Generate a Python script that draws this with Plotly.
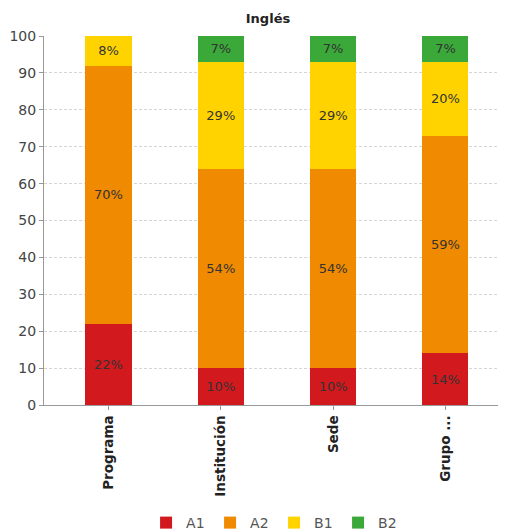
import plotly.graph_objects as go

categories = ["Programa", "Institución", "Sede", "Grupo ..."]
series_names = ["A1", "A2", "B1", "B2"]
a1 = [22, 10, 10, 14]
a2 = [70, 54, 54, 59]
b1 = [8, 29, 29, 20]
b2 = [0, 7, 7, 7]
colors = ["#D2191E", "#F08A00", "#FFD300", "#3BA83A"]
y_ticks = [0, 10, 20, 30, 40, 50, 60, 70, 80, 90, 100]

# page body has an 8px margin; figure is sized so the viewport matches the reference
OFF = 8
W, H = 506 - OFF, 531 - OFF
L, T, B = 44 - OFF, 36 - OFF, 126
PH = H - T - B

fig = go.Figure()
for name, vals, col in zip(series_names, [a1, a2, b1, b2], colors):
    fig.add_trace(go.Bar(
        x=list(range(len(categories))), y=vals, name=name,
        marker=dict(color=col, line=dict(width=0)),
        width=0.41,
        text=[f"{v}%" if v > 0 else "" for v in vals],
        textposition="inside", insidetextanchor="middle",
        textfont=dict(family="DejaVu Sans", size=13, color="#333333"),
        textangle=0,
    ))

fig.update_layout(
    barmode="stack",
    width=W, height=H,
    margin=dict(l=L, r=0, t=T, b=B, autoexpand=False),
    plot_bgcolor="white", paper_bgcolor="white",
    title=dict(text="<b>Inglés</b>", x=(268 - OFF) / W, xanchor="center", y=1 - (18 - OFF) / H, yanchor="middle",
               font=dict(family="DejaVu Sans", size=13, color="#222222")),
    font=dict(family="DejaVu Sans"),
    showlegend=True,
    legend=dict(orientation="h", x=(256 - OFF) / W, xanchor="center", y=-(523 - 405) / PH, yanchor="middle",
                font=dict(size=14, color="#555555"), itemwidth=30, traceorder="normal",
                entrywidth=19, entrywidthmode="pixels", tracegroupgap=0),
    uniformtext=dict(mode=False),
)
fig.update_xaxes(
    tickmode="array", tickvals=list(range(len(categories))), ticktext=[f"<b>{c}</b>" for c in categories],
    tickangle=-90, range=[-0.574, 3.539], showgrid=False,
    showline=True, linecolor="#999999", linewidth=1,
    ticks="outside", ticklen=4, tickcolor="#999999",
    tickfont=dict(family="DejaVu Sans", size=13.5, color="#222222"),
)
fig.update_yaxes(
    range=[0, 100], tickmode="array", tickvals=y_ticks,
    showgrid=True, gridcolor="#D5D5D5", griddash="3px,2px", gridwidth=1,
    showline=True, linecolor="#999999", linewidth=1,
    ticks="outside", ticklen=4, tickcolor="#999999",
    tickfont=dict(family="DejaVu Sans", size=14, color="#444444"),
    zeroline=False,
)
fig.write_html("out.html")
